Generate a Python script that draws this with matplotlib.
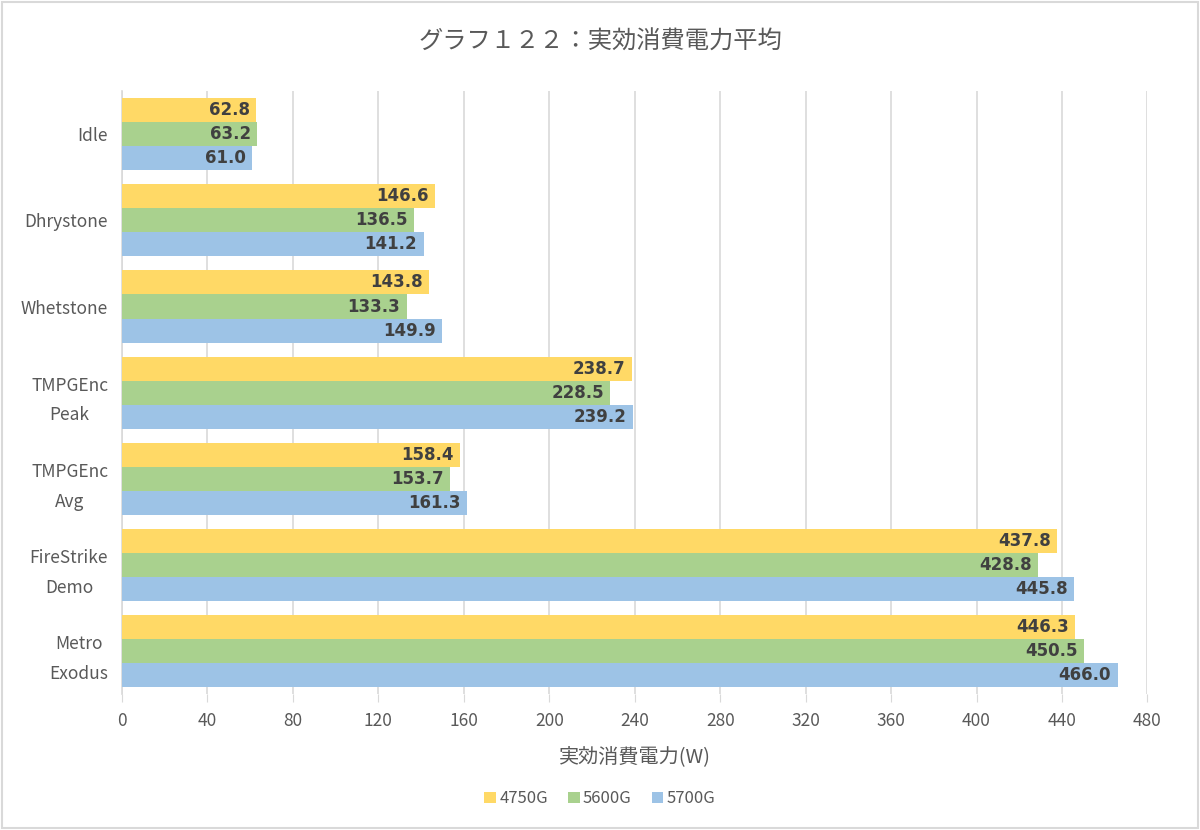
import matplotlib.pyplot as plt
import numpy as np
from matplotlib.patches import Rectangle

# data
categories = ["Idle", "Dhrystone", "Whetstone", "TMPGEnc\nPeak", "TMPGEnc\nAvg", "FireStrike\nDemo", "Metro\nExodus"]
series_names = ["4750G", "5600G", "5700G"]
vals_4750g = [62.8, 146.6, 143.8, 238.7, 158.4, 437.8, 446.3]
vals_5600g = [63.2, 136.5, 133.3, 228.5, 153.7, 428.8, 450.5]
vals_5700g = [61.0, 141.2, 149.9, 239.2, 161.3, 445.8, 466.0]
x_ticks = [0, 40, 80, 120, 160, 200, 240, 280, 320, 360, 400, 440, 480]

colors = ["#FFD966", "#A9D18E", "#9DC3E6"]
plt.rcParams["font.family"] = ["Noto Sans CJK JP", "DejaVu Sans"]

fig = plt.figure(figsize=(12, 8.3), dpi=100)
ax = fig.add_axes([0.1017, 0.164, 0.8545, 0.726])

# bars, first category at the top
n = len(categories)
y = np.arange(n)
h = 0.279
all_vals = [vals_4750g, vals_5600g, vals_5700g]
for i, (vals, c, name) in enumerate(zip(all_vals, colors, series_names)):
    pos = y + (i - 1) * h
    bars = ax.barh(pos, vals, height=h, color=c, label=name, zorder=3)
    for b, v in zip(bars, vals):
        ax.text(v - 3, b.get_y() + b.get_height() / 2, "%.1f" % v, ha="right", va="center",
                fontsize=12, fontweight="bold", color="#404040", zorder=4, family="DejaVu Sans")

ax.set_ylim(n - 0.5, -0.5)
ax.set_xlim(0, 480)
ax.set_xticks(x_ticks)
ax.set_yticks(y)
ax.set_yticklabels(categories, linespacing=1.85, multialignment="center")
ax.tick_params(axis="y", length=0, labelsize=12.5, labelcolor="#595959", pad=10)
ax.tick_params(axis="x", length=6, color="#D9D9D9", labelsize=12.5, labelcolor="#595959", pad=7)
ax.grid(axis="x", color="#D9D9D9", linewidth=1.2, zorder=0)
for s in ["top", "right", "bottom"]:
    ax.spines[s].set_visible(False)
ax.spines["left"].set_color("#D9D9D9")
ax.spines["left"].set_linewidth(1.2)

ax.set_xlabel("実効消費電力(W)", fontsize=14.5, color="#595959", labelpad=12)
fig.suptitle("グラフ１２２：実効消費電力平均", fontsize=17.5, color="#595959", y=0.965)

ax.legend(loc="upper center", bbox_to_anchor=(0.466, -0.135), ncol=3, frameon=False,
          fontsize=12, labelcolor="#595959", handlelength=0.7, handleheight=0.7,
          handletextpad=0.2, columnspacing=1.2)

# outer border
fig.patches.append(Rectangle((0.002, 0.002), 0.996, 0.996, transform=fig.transFigure,
                             fill=False, edgecolor="#D9D9D9", linewidth=1.5))

plt.savefig("out.png", dpi=100)
